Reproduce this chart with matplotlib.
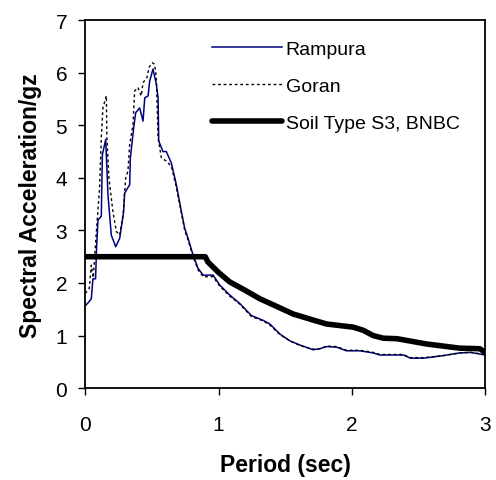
import numpy as np
from matplotlib import pyplot as plt

plt.rcParams['font.family'] = ['Liberation Sans', 'DejaVu Sans']

# Rampura record
t_rampura = [0.00, 0.02, 0.045, 0.057, 0.077, 0.085, 0.095, 0.12, 0.128, 0.153,
             0.17, 0.195, 0.228, 0.258, 0.288, 0.295, 0.333, 0.338, 0.363, 0.378,
             0.408, 0.433, 0.446, 0.471, 0.483, 0.508, 0.533, 0.546, 0.551, 0.583,
             0.608, 0.646, 0.683, 0.721, 0.746, 0.771, 0.809, 0.846, 0.884, 0.959,
             1.009, 1.084, 1.159, 1.247, 1.334, 1.385, 1.46, 1.535, 1.61, 1.71,
             1.76, 1.81, 1.886, 1.96, 2.06, 2.16, 2.21, 2.386, 2.44, 2.54,
             2.69, 2.81, 2.89, 3.0]
sa_rampura = [1.57, 1.62, 1.7, 2.08, 2.08, 2.7, 3.2, 3.27, 4.44, 4.73,
              3.68, 2.91, 2.69, 2.85, 3.36, 3.71, 3.87, 4.38, 4.95, 5.24,
              5.33, 5.08, 5.52, 5.56, 5.84, 6.07, 5.78, 5.52, 4.70, 4.5,
              4.5, 4.28, 3.87, 3.36, 3.04, 2.85, 2.53, 2.28, 2.15, 2.15,
              1.96, 1.77, 1.61, 1.38, 1.29, 1.22, 1.03, 0.90, 0.82, 0.73,
              0.75, 0.79, 0.78, 0.71, 0.71, 0.67, 0.63, 0.63, 0.57, 0.57,
              0.62, 0.67, 0.68, 0.63]

# Goran record
t_goran = [0.0, 0.03, 0.045, 0.06, 0.082, 0.107, 0.12, 0.132, 0.158, 0.162,
           0.177, 0.207, 0.233, 0.258, 0.283, 0.303, 0.32, 0.333, 0.358, 0.37,
           0.395, 0.42, 0.433, 0.463, 0.478, 0.503, 0.52, 0.533, 0.546, 0.571,
           0.608, 0.646, 0.683, 0.721, 0.746, 0.771, 0.809, 0.846, 0.884, 0.959,
           1.009, 1.084, 1.159, 1.247, 1.334, 1.385, 1.46, 1.535, 1.61, 1.71,
           1.76, 1.81, 1.886, 1.96, 2.06, 2.16, 2.21, 2.386, 2.44, 2.54,
           2.69, 2.81, 2.89, 3.0]
sa_goran = [1.8, 1.9, 2.34, 2.1, 2.94, 3.8, 4.76, 5.33, 5.56, 4.76,
            4.0, 3.36, 2.98, 2.91, 3.29, 4.0, 4.13, 4.63, 5.02, 5.65,
            5.72, 5.56, 5.81, 5.91, 6.10, 6.19, 6.16, 5.91, 4.76, 4.38,
            4.32, 4.22, 3.82, 3.33, 3.0, 2.82, 2.5, 2.25, 2.12, 2.12,
            1.94, 1.75, 1.6, 1.36, 1.28, 1.2, 1.02, 0.9, 0.81, 0.74,
            0.75, 0.80, 0.79, 0.72, 0.72, 0.68, 0.64, 0.64, 0.58, 0.58,
            0.62, 0.67, 0.68, 0.64]

# BNBC design spectrum, soil type S3
t_bnbc = [0, 0.9, 0.92, 1.0, 1.084, 1.2, 1.31, 1.44, 1.56, 1.69,
          1.81, 2.01, 2.086, 2.16, 2.236, 2.34, 2.56, 2.81, 2.96, 3.0]
sa_bnbc = [2.5, 2.5, 2.4, 2.2, 2.02, 1.86, 1.70, 1.55, 1.41, 1.31,
           1.22, 1.16, 1.10, 1.0, 0.95, 0.94, 0.84, 0.76, 0.75, 0.68]

fig = plt.figure(figsize=(4.96, 4.81), dpi=100)
ax = fig.add_axes([0.172, 0.191, 0.806, 0.765])

ax.plot(t_rampura, sa_rampura, color='#000080', lw=1.1, label='Rampura')
ax.plot(t_goran, sa_goran, color='black', lw=1.0, ls=(0, (2, 2)), label='Goran')
ax.plot(t_bnbc, sa_bnbc, color='black', lw=4.0, solid_capstyle='round',
        label='Soil Type S3, BNBC')

ax.set_xlim(0, 3)
ax.set_ylim(0, 7)
ax.set_xticks([0, 1, 2, 3])
ax.set_yticks(range(8))
ax.tick_params(direction='out', length=5, width=1, labelsize=15)
ax.tick_params(axis='x', pad=14)
ax.tick_params(axis='y', pad=8)
for s in ax.spines.values():
    s.set_linewidth(1.3)

ax.set_xlabel('Period (sec)', fontsize=16.5, fontweight='bold', labelpad=14)
ax.set_ylabel('Spectral Acceleration/gz', fontsize=16.5, fontweight='bold', labelpad=10)

ax.legend(loc='upper left', bbox_to_anchor=(0.316, 0.945), frameon=False,
          fontsize=14, handlelength=3.6, handletextpad=0.2, labelspacing=1.0,
          borderpad=0, borderaxespad=0)

plt.savefig('out.png', dpi=100)
